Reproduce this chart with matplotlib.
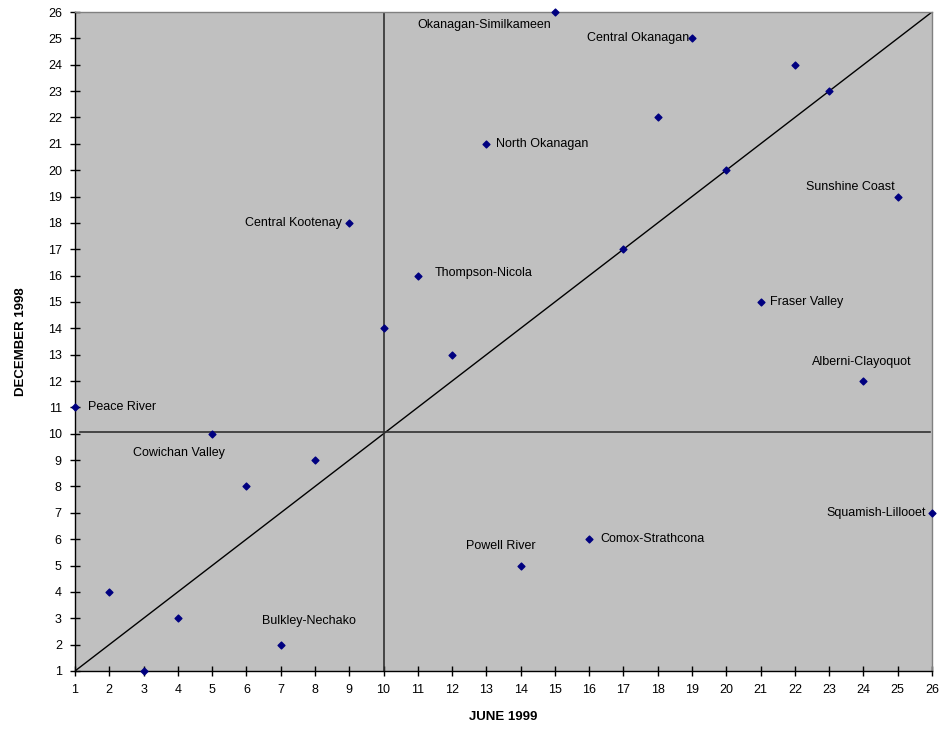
import matplotlib
matplotlib.use("Agg")
import matplotlib.pyplot as plt

plt.rcParams['font.family'] = ['Liberation Sans', 'DejaVu Sans']

# Data: ranks
june_1999 = [1, 2, 3, 4, 5, 6, 7, 8, 9, 10, 11, 12, 13, 14, 15, 16, 17, 18, 19, 20, 21, 22, 23, 24, 25, 26]
dec_1998 = [11, 4, 1, 3, 10, 8, 2, 9, 18, 14, 16, 13, 21, 5, 26, 6, 17, 22, 25, 20, 15, 24, 23, 12, 19, 7]

# Labelled points: (name, june rank, december rank)
label_names = ["Peace River", "Cowichan Valley", "Bulkley-Nechako", "Central Kootenay",
               "Thompson-Nicola", "North Okanagan", "Okanagan-Similkameen", "Central Okanagan",
               "Sunshine Coast", "Fraser Valley", "Alberni-Clayoquot", "Squamish-Lillooet",
               "Comox-Strathcona", "Powell River"]
label_x = [1, 5, 7, 9, 11, 13, 15, 19, 25, 21, 24, 26, 16, 14]
label_y = [11, 10, 2, 18, 16, 21, 26, 25, 19, 15, 12, 7, 6, 5]

# Reference lines
vline_x = 10
hline_y = 10.06
ticks = list(range(1, 27))

# Label offsets (points) and alignments
offsets = [(9, 0, 'left'), (-24, -14, 'center'), (20, 17, 'center'), (-5, 0, 'right'),
           (12, 2, 'left'), (7, 0, 'left'), (-3, -9, 'right'), (-2, 0, 'right'),
           (-2, 7, 'right'), (7, 0, 'left'), (-37, 14, 'left'), (-4, 0, 'right'),
           (8, 0, 'left'), (-14, 14, 'center')]

fig = plt.figure(figsize=(9.39, 7.29), dpi=100)
ax = fig.add_axes([0.0799, 0.0796, 0.9126, 0.9039])
ax.set_facecolor('#c0c0c0')

ax.plot([1, 26], [1, 26], color='black', lw=1, zorder=2)
ax.plot([vline_x, vline_x], [1, 26], color='#303030', lw=1.2, zorder=2)
ax.plot([1.15, 25.95], [hline_y, hline_y], color='#303030', lw=1.2, zorder=2)

ax.scatter(june_1999, dec_1998, marker='D', s=12, color='#000080', zorder=3, clip_on=False)

for name, x, y, (dx, dy, ha) in zip(label_names, label_x, label_y, offsets):
    ax.annotate(name, (x, y), xytext=(dx, dy), textcoords='offset points',
                ha=ha, va='center', fontsize=9, color='black')

ax.set_xlim(1, 26)
ax.set_ylim(1, 26)
ax.set_xticks(ticks)
ax.set_yticks(ticks)
ax.tick_params(direction='inout', length=7, width=1, labelsize=9, pad=6)
for s in ['left', 'bottom']:
    ax.spines[s].set_color('black')
    ax.spines[s].set_linewidth(1)
for s in ['top', 'right']:
    ax.spines[s].set_color('#808080')
    ax.spines[s].set_linewidth(1)

ax.set_xlabel('JUNE 1999', fontsize=9.5, fontweight='bold', labelpad=11)
ax.set_ylabel('DECEMBER 1998', fontsize=9.5, fontweight='bold', labelpad=15)

fig.savefig('out.png', dpi=100)
